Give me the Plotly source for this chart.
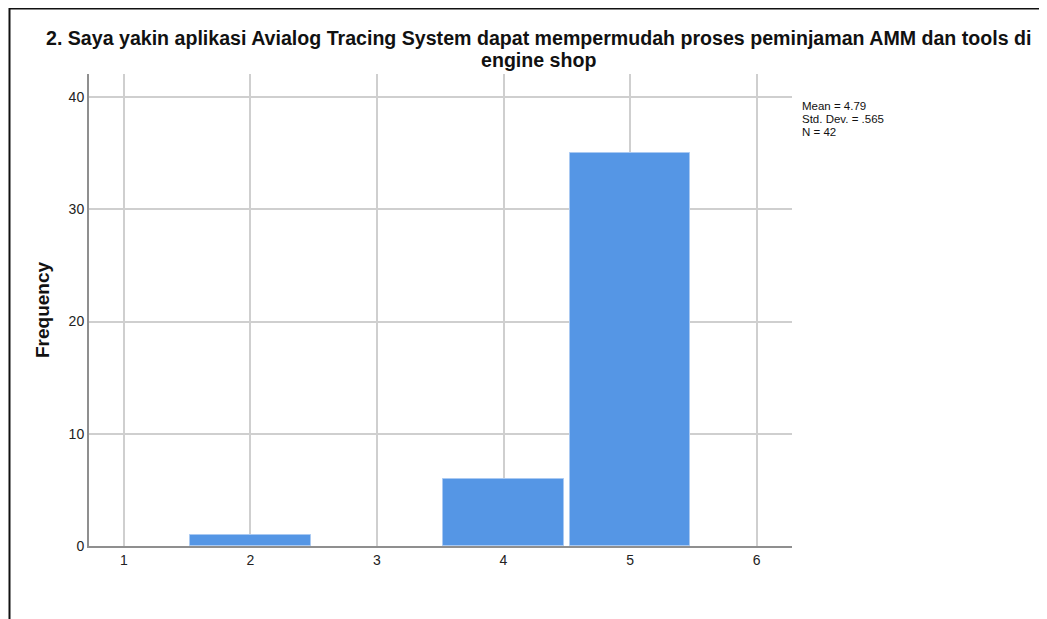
import plotly.graph_objects as go

# Data
values = [1, 2, 3, 4, 5]
frequencies = [0, 1, 0, 6, 35]
x_ticks = [1, 2, 3, 4, 5, 6]
y_ticks = [0, 10, 20, 30, 40]
title_lines = ["2. Saya yakin aplikasi Avialog Tracing System dapat mempermudah proses peminjaman AMM dan tools di",
               "engine shop"]
stats_lines = ["Mean = 4.79", "Std. Dev. = .565", "N = 42"]

OFF = 8  # browser default body margin
W, H = 1047 - OFF, 619 - OFF
L, R, T, B = 89 - OFF, 792 - OFF, 74 - OFF, 546 - OFF  # plot area pixel bounds


def px(x):
    return (x - OFF - L) / (R - L)


def py(y):
    return (B - (y - OFF)) / (B - T)


def tight_lines(lines, size, bold=False):
    parts = []
    for ln in lines:
        t = "<b>" + ln + "</b>" if bold else ln
        parts.append('<span style="font-size:%spx">%s</span>' % (size, t))
    return "<br>".join(parts)


bar_x = [v for v, f in zip(values, frequencies) if f > 0]
bar_y = [f for f in frequencies if f > 0]

fig = go.Figure()
fig.add_trace(go.Bar(
    x=bar_x, y=bar_y, width=0.953,
    marker=dict(color="#5596e5", line=dict(color="#a9c9f2", width=1)),
    hoverinfo="x+y", showlegend=False,
))

font_family = "Liberation Sans, Arial, sans-serif"

fig.update_layout(
    width=W, height=H,
    margin=dict(l=L, r=W - R, t=T, b=H - B, pad=0),
    paper_bgcolor="white", plot_bgcolor="white",
    font=dict(family=font_family, color="#222222", size=13),
    bargap=0,
    xaxis=dict(range=[0.724, 6.28], tickvals=x_ticks, ticktext=[str(v) for v in x_ticks],
               showgrid=True, gridcolor="#cfcfcf", gridwidth=1.5,
               showline=True, linecolor="#8f8f8f", linewidth=2,
               zeroline=False, ticks="", ticklen=0, tickfont=dict(size=14, color="#222222"),
               fixedrange=True),
    yaxis=dict(range=[0, 42.05], tickvals=y_ticks,
               showgrid=True, gridcolor="#cfcfcf", gridwidth=1.5,
               showline=True, linecolor="#8f8f8f", linewidth=2,
               zeroline=False, ticks="", ticklen=0, tickfont=dict(size=14, color="#222222"),
               title=dict(text="<b>Frequency</b>", font=dict(size=19, color="#111111"), standoff=14),
               fixedrange=True),
)

# Title: two centered lines with tight line spacing (base font sets spacing)
fig.add_annotation(text=tight_lines(title_lines, 19.6, bold=True), xref="paper", yref="paper",
                   x=px(538), y=py(49), xanchor="center", yanchor="middle", showarrow=False,
                   align="center",
                   font=dict(size=17.3, color="#111111", family=font_family))

# Statistics text
fig.add_annotation(text=tight_lines(stats_lines, 11.5), xref="paper", yref="paper",
                   x=px(800), y=py(119), xanchor="left", yanchor="middle", showarrow=False,
                   align="left",
                   font=dict(size=10, color="#111111", family=font_family))

# Outer frame lines (top and left)
fig.add_shape(type="line", xref="paper", yref="paper",
              x0=px(9), x1=px(1060), y0=py(8.5), y1=py(8.5),
              line=dict(color="#111111", width=2))
fig.add_shape(type="line", xref="paper", yref="paper",
              x0=px(9.5), x1=px(9.5), y0=py(7.5), y1=py(630),
              line=dict(color="#111111", width=2))

fig.write_html("out.html")
